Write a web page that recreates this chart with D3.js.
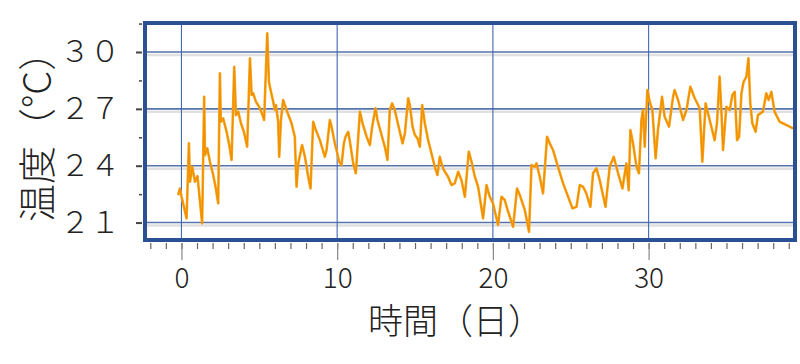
<!DOCTYPE html>
<html><head><meta charset="utf-8">
<script src="https://cdn.jsdelivr.net/npm/d3@7"></script>
<style>html,body{margin:0;padding:0;background:#fff;}svg{display:block;}</style>
</head><body>
<svg id="c" width="800" height="364"></svg>
<script>
// ---- data ----
const days = [-0.21,-0.10,0.01,0.33,0.48,0.55,0.69,0.87,1.03,1.19,1.33,1.46,1.51,1.66,1.83,2.04,2.21,2.36,2.47,2.53,2.68,2.90,3.07,3.22,3.39,3.50,3.65,3.82,4.01,4.22,4.40,4.51,4.61,4.78,4.99,5.21,5.31,5.51,5.62,5.68,5.89,6.00,6.07,6.21,6.28,6.39,6.53,6.75,7.07,7.28,7.39,7.50,7.75,7.93,8.14,8.29,8.46,8.63,8.89,9.21,9.32,9.53,9.64,9.85,9.96,10.13,10.28,10.43,10.54,10.71,10.82,11.03,11.20,11.46,11.63,11.89,12.10,12.25,12.46,12.59,12.85,13.06,13.23,13.38,13.53,13.70,13.92,14.20,14.35,14.56,14.67,14.84,14.99,15.16,15.31,15.46,15.63,15.84,15.95,16.27,16.44,16.59,16.70,16.85,17.12,17.34,17.55,17.77,17.98,18.20,18.45,18.63,18.84,19.05,19.37,19.59,19.80,20.01,20.33,20.55,20.76,20.98,21.30,21.55,21.73,22.05,22.32,22.48,22.69,22.80,23.01,23.22,23.48,23.65,23.86,24.18,24.51,24.83,25.11,25.37,25.58,25.79,26.00,26.26,26.43,26.65,26.86,27.23,27.50,27.76,28.04,28.32,28.57,28.72,28.83,29.00,29.22,29.38,29.54,29.64,29.75,29.92,30.07,30.24,30.45,30.60,30.86,31.03,31.31,31.57,31.67,31.89,32.21,32.43,32.68,32.96,33.28,33.45,33.66,33.92,34.24,34.39,34.56,34.67,34.78,34.99,35.21,35.38,35.53,35.68,35.81,35.96,36.10,36.28,36.41,36.53,36.66,36.87,37.02,37.34,37.56,37.71,37.88,38.09,38.41,38.84,39.27];
const temps = [22.45,22.80,22.36,21.22,25.18,23.15,23.94,23.15,23.45,22.10,20.96,27.64,24.56,24.92,24.21,23.51,22.80,22.01,28.88,26.32,26.50,25.79,25.09,24.30,29.22,26.67,26.85,26.24,25.79,25.00,29.67,27.73,27.82,27.38,27.11,26.67,26.41,30.99,28.43,28.17,27.38,26.94,27.20,26.32,24.47,26.41,27.47,26.94,26.24,25.53,22.89,24.12,25.09,24.47,23.42,22.80,26.32,25.88,25.35,24.47,24.83,26.41,26.06,25.18,24.83,24.21,24.03,25.18,25.53,25.79,25.26,24.12,23.60,26.85,26.24,25.53,25.09,26.06,27.03,26.41,25.62,25.00,24.30,26.94,27.29,26.94,26.15,25.18,25.71,27.56,27.20,26.06,25.62,25.44,25.00,27.20,26.24,25.35,25.00,23.94,23.51,24.47,24.12,23.77,23.42,22.98,23.07,23.68,23.24,22.36,24.74,24.21,23.42,22.89,21.22,22.98,22.36,22.01,20.87,22.36,22.19,21.57,20.78,22.80,22.45,21.66,20.51,24.03,23.94,24.12,23.42,22.54,25.53,25.18,24.83,23.94,23.07,22.36,21.75,21.83,22.98,22.89,22.54,21.83,23.60,23.86,23.24,21.83,23.94,24.47,23.60,22.80,24.12,22.71,25.88,25.18,23.94,23.60,26.41,26.94,25.00,27.99,27.38,26.94,24.39,25.88,27.64,26.58,26.06,27.64,27.99,27.47,26.41,26.94,28.17,27.56,27.03,24.21,27.29,26.41,25.35,26.24,28.70,26.94,24.83,27.11,26.94,27.73,27.90,25.35,25.53,27.82,28.43,28.70,29.67,27.29,26.24,25.79,26.67,26.85,27.82,27.47,27.90,26.85,26.32,26.15,25.97];
const xMajorTicks = [0, 10, 20, 30];
const yMajorTicks = [21, 24, 27, 30];
const yMinorTicks = [22.5, 25.5, 28.5, 31.5];
const xTitle = "時間（日）";
const yTitle = "温度（°C）";

// ---- chart ----
const svg = d3.select("#c");
const x = d3.scaleLinear().domain([-2.34, 39.4]).range([145, 795]);
const y = d3.scaleLinear().domain([20.08, 31.53]).range([240, 23]);
const [x0, x1] = x.range();
const [y0, y1] = [y.range()[1], y.range()[0]];
const fw = s => String(s).replace(/[0-9]/g, c => String.fromCharCode(c.charCodeAt(0) + 0xFEE0));
const font = "'Noto Sans CJK JP', 'Noto Sans', sans-serif";

svg.append("rect").attr("x", x0).attr("y", y0).attr("width", x1 - x0).attr("height", y1 - y0).attr("fill", "#fff");

// horizontal gridlines with shadow
const hg = svg.append("g");
hg.selectAll("line.s").data(yMajorTicks).join("line")
  .attr("x1", x0).attr("x2", x1).attr("y1", d => y(d) + 3).attr("y2", d => y(d) + 3)
  .attr("stroke", "#e0e0e0").attr("stroke-width", 2.5);
hg.selectAll("line.m").data(yMajorTicks).join("line")
  .attr("x1", x0).attr("x2", x1).attr("y1", d => y(d)).attr("y2", d => y(d))
  .attr("stroke", "#5573ad").attr("stroke-width", 1.6);
// vertical gridlines
svg.append("g").selectAll("line").data(xMajorTicks).join("line")
  .attr("x1", d => x(d)).attr("x2", d => x(d)).attr("y1", y0).attr("y2", y1)
  .attr("stroke", "#4168b4").attr("stroke-width", 1.1);

// data line
const line = d3.line().x((d, i) => x(days[i])).y((d, i) => y(temps[i]));
svg.append("path").datum(temps).attr("d", line)
  .attr("fill", "none").attr("stroke", "#f7a51c").attr("stroke-width", 2.6)
  .attr("stroke-linejoin", "round");
svg.append("path").datum(temps).attr("d", line)
  .attr("fill", "none").attr("stroke", "#f09000").attr("stroke-width", 1.2)
  .attr("stroke-linejoin", "round");

// frame
svg.append("rect").attr("x", x0).attr("y", y0).attr("width", x1 - x0).attr("height", y1 - y0)
  .attr("fill", "none").attr("stroke", "#2c5193").attr("stroke-width", 4);

// bottom axis: minor ticks
const gxm = svg.append("g").attr("transform", `translate(0,${y1 + 3})`)
  .call(d3.axisBottom(x).tickValues(d3.range(-2, 40)).tickSize(6).tickFormat(""));
gxm.select(".domain").remove();
gxm.selectAll(".tick line").attr("stroke", "#666").attr("stroke-width", 1.2);
// bottom axis: major ticks + labels
const gx = svg.append("g").attr("transform", `translate(0,${y1 + 3})`)
  .call(d3.axisBottom(x).tickValues(xMajorTicks).tickSize(17).tickPadding(8).tickFormat(d3.format("d")));
gx.select(".domain").remove();
gx.selectAll(".tick line").attr("stroke", "#888").attr("stroke-width", 1.2);
gx.selectAll(".tick text").attr("font-family", font).attr("font-size", 28).attr("font-weight", 300).attr("fill", "#222");

// left axis: minor
const gym = svg.append("g").attr("transform", `translate(${x0 - 3},0)`)
  .call(d3.axisLeft(y).tickValues(yMinorTicks).tickSize(3).tickFormat(""));
gym.select(".domain").remove();
gym.selectAll(".tick line").attr("stroke", "#444").attr("stroke-width", 1.5);
// left axis: major + labels
const gy = svg.append("g").attr("transform", `translate(${x0 - 3},0)`)
  .call(d3.axisLeft(y).tickValues(yMajorTicks).tickSize(6).tickPadding(16).tickFormat(d => fw(d)));
gy.select(".domain").remove();
gy.selectAll(".tick line").attr("stroke", "#444").attr("stroke-width", 2);
gy.selectAll(".tick text").attr("font-family", font).attr("font-size", 30).attr("font-weight", 300).attr("fill", "#222");

// titles
svg.append("text").attr("x", 368).attr("y", 334).attr("font-family", font).attr("font-size", 35)
  .attr("font-weight", 300).attr("fill", "#222").text(xTitle);
svg.append("text").attr("transform", "translate(51,222) rotate(-90)").attr("font-family", font)
  .attr("font-size", 38).attr("font-weight", 300).attr("fill", "#222").text(yTitle);
</script>
</body></html>
